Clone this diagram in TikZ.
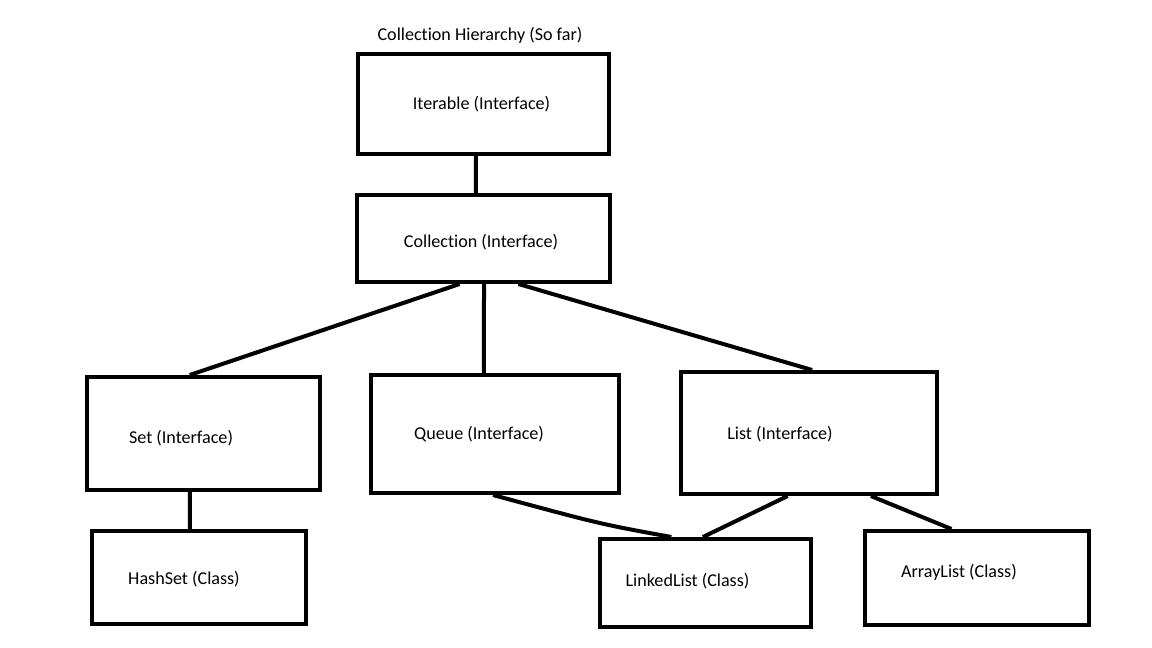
\documentclass[tikz,border=0pt]{standalone}
\usepackage{fontspec}
\setmainfont{Carlito}[RawFeature={-liga}]
\usetikzlibrary{calc}
\tikzset{
  boxnode/.style={draw=black, line width=4pt, rectangle, inner sep=0pt, fill=none},
  lbl/.style={inner sep=0pt, font=\fontsize{18.1}{21}\selectfont, text=black},
  conn/.style={draw=black, line width=4pt}
}
\newcommand{\mybox}[5]{%
  \node[boxnode, minimum width={(#4-#2)*1pt}, minimum height={(#5-#3)*1pt}] (#1) at ({(#2+#4)/2}, {(#3+#5)/2}) {};}
\begin{document}
\begin{tikzpicture}[x=1pt, y=-1pt]
\fill[white] (0,0) rectangle (1152,648);
\useasboundingbox (0,0) rectangle (1152,648);

\node[lbl] (title) at (480,35) {Collection Hierarchy (So far)};

\mybox{iter}{358}{54}{609}{154}
\mybox{coll}{357}{195}{610}{282}
\mybox{set}{87}{377}{320}{490}
\mybox{queue}{371}{375}{619}{493}
\mybox{list}{681}{372}{937}{494}
\mybox{hash}{92}{531}{306}{624}
\mybox{linked}{600}{539}{811}{627}
\mybox{array}{865}{531}{1089}{625}

\node[lbl] (iterT) at (481.5,104) {Iterable (Interface)};
\node[lbl] (collT) at (481,242) {Collection (Interface)};
\node[lbl] (setT) at (181,438) {Set (Interface)};
\node[lbl] (queueT) at (479,434) {Queue (Interface)};
\node[lbl] (listT) at (780,434) {List (Interface)};
\node[lbl] (hashT) at (184,579) {HashSet (Class)};
\node[lbl] (linkedT) at (687.5,581) {LinkedList (Class)};
\node[lbl] (arrayT) at (959,572) {ArrayList (Class)};

\draw[conn] ($(iter.south west)!0.47!(iter.south east)$) -- ($(coll.north west)!0.47!(coll.north east)$);
\draw[conn] ($(coll.south west)!0.407!(coll.south east)$) -- ($(set.north west)!0.442!(set.north east)$);
\draw[conn] ($(coll.south west)!0.502!(coll.south east)$) -- ($(queue.north west)!0.456!(queue.north east)$);
\draw[conn] ($(coll.south west)!0.636!(coll.south east)$) -- ($(list.north west)!0.512!(list.north east)$);
\draw[conn] ($(set.south west)!0.442!(set.south east)$) -- ($(hash.north west)!0.458!(hash.north east)$);
\draw[conn] ($(queue.south west)!0.492!(queue.south east)$) .. controls (600,524) .. ($(linked.north west)!0.341!(linked.north east)$);
\draw[conn] ($(list.south west)!0.418!(list.south east)$) -- ($(linked.north west)!0.488!(linked.north east)$);
\draw[conn] ($(list.south west)!0.738!(list.south east)$) -- ($(array.north west)!0.388!(array.north east)$);
\end{tikzpicture}
\end{document}
